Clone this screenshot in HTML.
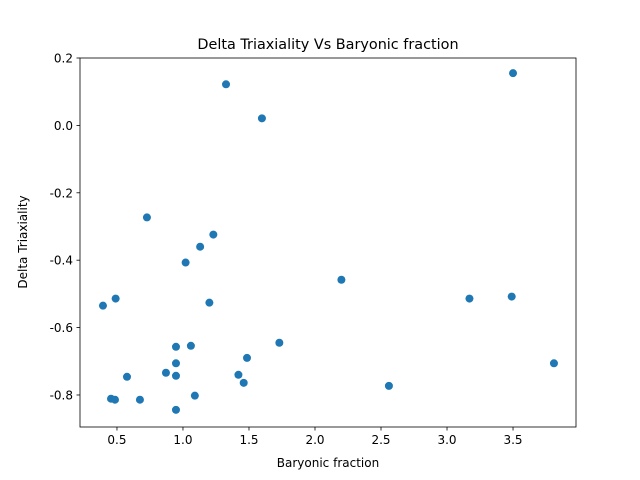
<!DOCTYPE html>
<html><head><meta charset="utf-8"><style>
body{margin:0;background:#fff;}
svg{display:block;font-family:"DejaVu Sans","Liberation Sans",sans-serif;}
</style></head><body>
<svg id="chart" width="640" height="480">
<rect width="640" height="480" fill="#fff"/>
<text x="328" y="49" font-size="14.4" text-anchor="middle">Delta Triaxiality Vs Baryonic fraction</text>
<g id="axes"></g>
<g id="points"></g>
<rect x="80" y="58" width="496" height="369" fill="none" stroke="#000" stroke-width="0.8"/>
<text x="328" y="467" font-size="12" text-anchor="middle">Baryonic fraction</text>
<text transform="translate(27,242) rotate(-90)" font-size="12" text-anchor="middle">Delta Triaxiality</text>
</svg>
<script>
const xValues=[3.5,1.326,1.598,0.727,1.23,1.13,1.02,2.2,0.394,0.49,1.2,3.17,3.49,1.73,1.06,0.947,1.485,0.947,3.81,0.576,0.871,0.947,1.42,1.46,2.56,0.455,0.485,0.674,1.09,0.947];
const yValues=[0.155,0.122,0.021,-0.273,-0.324,-0.36,-0.407,-0.458,-0.535,-0.514,-0.526,-0.514,-0.508,-0.645,-0.654,-0.657,-0.69,-0.706,-0.706,-0.746,-0.734,-0.743,-0.74,-0.764,-0.773,-0.811,-0.814,-0.814,-0.802,-0.844];
const xTicks=[0.5,1.0,1.5,2.0,2.5,3.0,3.5];
const yTicks=[0.2,0.0,-0.2,-0.4,-0.6,-0.8];
const L=80,R=576,T=58,B=427,xmin=0.22,xmax=3.977,ymin=-0.895,ymax=0.2;
const sx=v=>L+(v-xmin)/(xmax-xmin)*(R-L);
const sy=v=>B-(v-ymin)/(ymax-ymin)*(B-T);
const NS="http://www.w3.org/2000/svg";
const ax=document.getElementById('axes'),pg=document.getElementById('points');
function mk(tag,a,p){const e=document.createElementNS(NS,tag);for(const k in a)e.setAttribute(k,a[k]);p.appendChild(e);return e;}
xTicks.forEach(t=>{const x=sx(t);
 const l=mk('line',{x1:x,x2:x,y1:B,y2:B+3.5,stroke:'#000','stroke-width':0.8},ax);
 
 
 const s=mk('text',{x:x,y:B+17,'font-size':12,'text-anchor':'middle'},ax);s.textContent=t.toFixed(1);
 
 });
yTicks.forEach(t=>{const y=sy(t);
 const l=mk('line',{x1:L-3.5,x2:L,y1:y,y2:y,stroke:'#000','stroke-width':0.8},ax);
 
 
 const s=mk('text',{x:L-7,y:y+4.5,'font-size':12,'text-anchor':'end'},ax);s.textContent=(t===0?'0.0':t.toFixed(1));
 
 });
xValues.forEach((v,i)=>{const c=mk('circle',{cx:sx(v),cy:sy(yValues[i]),r:4,fill:'#1f77b4'},pg);
 
 });
</script>
</body></html>
